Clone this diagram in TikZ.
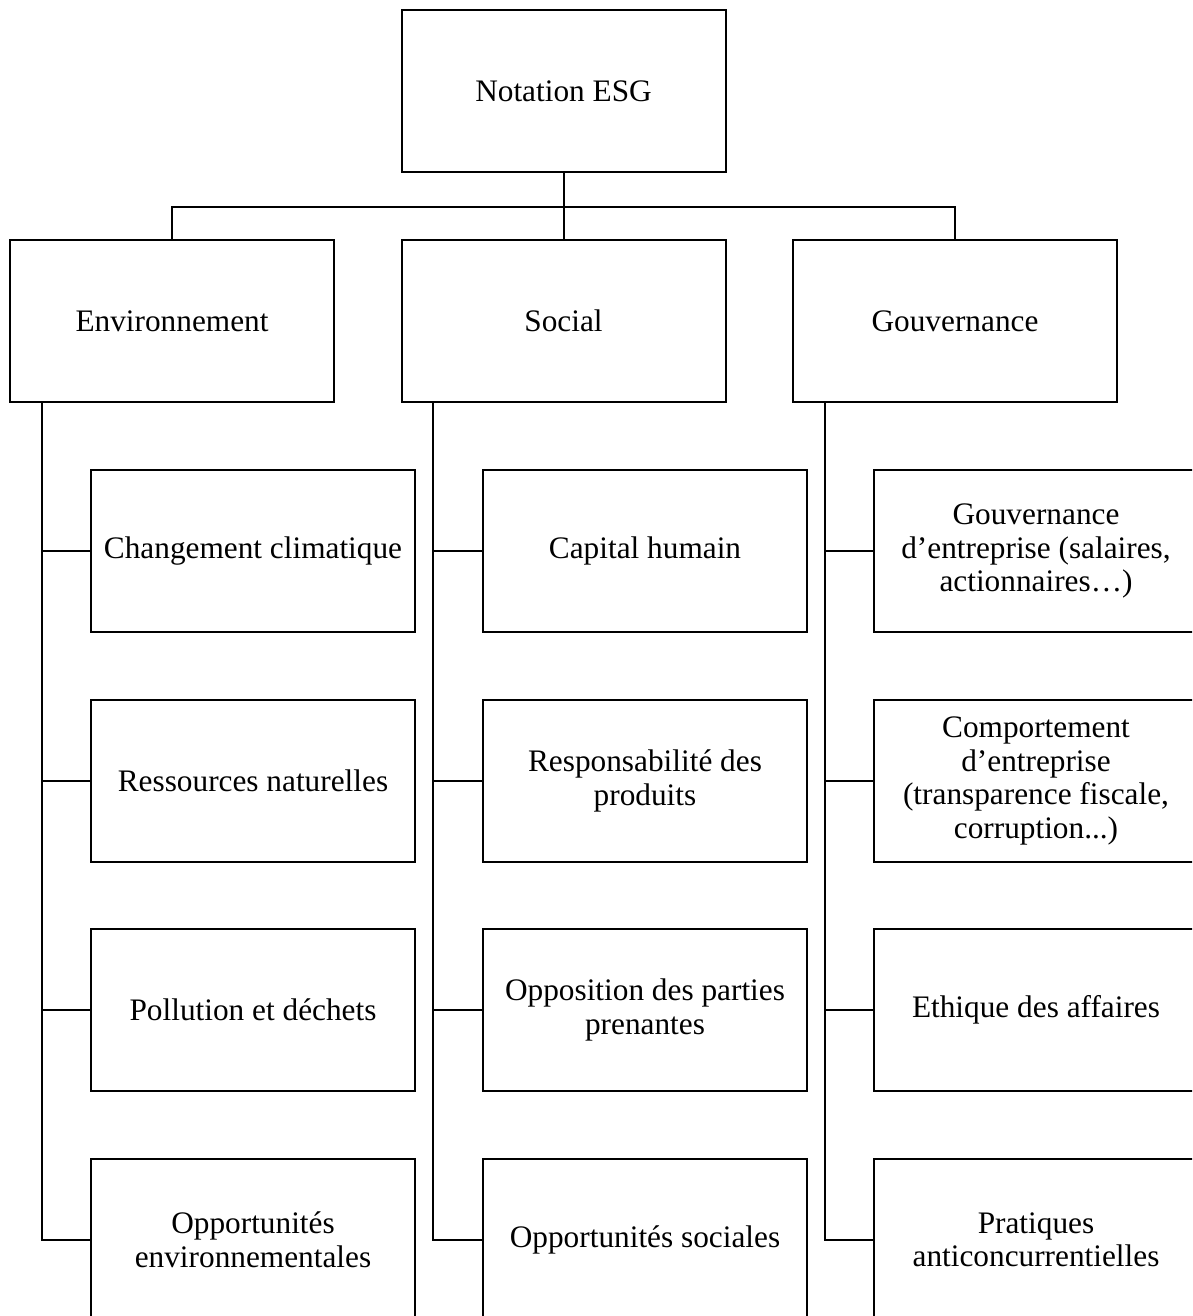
\documentclass[tikz,border=0pt]{standalone}
\usepackage{fontspec}
\setmainfont{Liberation Serif}
\tikzset{
  box/.style={draw, line width=2pt, minimum width=324pt, minimum height=162pt,
    align=center, inner sep=4pt, font=\fontsize{31.3}{33.5}\selectfont},
  link/.style={line width=2pt}
}
\begin{document}
\begin{tikzpicture}[x=1pt,y=-1pt]
\useasboundingbox (0,0) rectangle (1192,1316);
\clip (0,0) rectangle (1192,1316);
% top
\node[box] (top) at (563.5,91) {Notation ESG};
% level 2
\node[box] (env) at (172,321) {Environnement};
\node[box] (soc) at (563.5,321) {Social};
\node[box] (gov) at (955,321) {Gouvernance};
\coordinate (hub) at (563.5,206.5);
% level 3 - environment
\node[box] (e1) at (253,551) {Changement climatique};
\node[box] (e2) at (253,781) {Ressources naturelles};
\node[box] (e3) at (253,1010) {Pollution et déchets};
\node[box] (e4) at (253,1240) {Opportunités\\environnementales};
% social
\node[box] (s1) at (645,551) {Capital humain};
\node[box] (s2) at (645,781) {Responsabilité des\\produits};
\node[box] (s3) at (645,1010) {Opposition des parties\\prenantes};
\node[box] (s4) at (645,1240) {Opportunités sociales};
% governance
\node[box] (g1) at (1036,551) {Gouvernance\\d’entreprise (salaires,\\actionnaires…)};
\node[box] (g2) at (1036,781) {Comportement\\d’entreprise\\(transparence fiscale,\\corruption...)};
\node[box] (g3) at (1036,1010) {Ethique des affaires};
\node[box] (g4) at (1036,1240) {Pratiques\\anticoncurrentielles};
% connectors
\draw[link] (top.south) -- (soc.north);
\draw[link] (env.north) |- (hub) -| (gov.north);
\coordinate (et) at ([xshift=32.5pt]env.south west);
\coordinate (st) at ([xshift=32.5pt]soc.south west);
\coordinate (gt) at ([xshift=32.5pt]gov.south west);
\foreach \c in {e1,e2,e3,e4} \draw[link] (et) |- (\c.west);
\foreach \c in {s1,s2,s3,s4} \draw[link] (st) |- (\c.west);
\foreach \c in {g1,g2,g3,g4} \draw[link] (gt) |- (\c.west);
\end{tikzpicture}
\end{document}
